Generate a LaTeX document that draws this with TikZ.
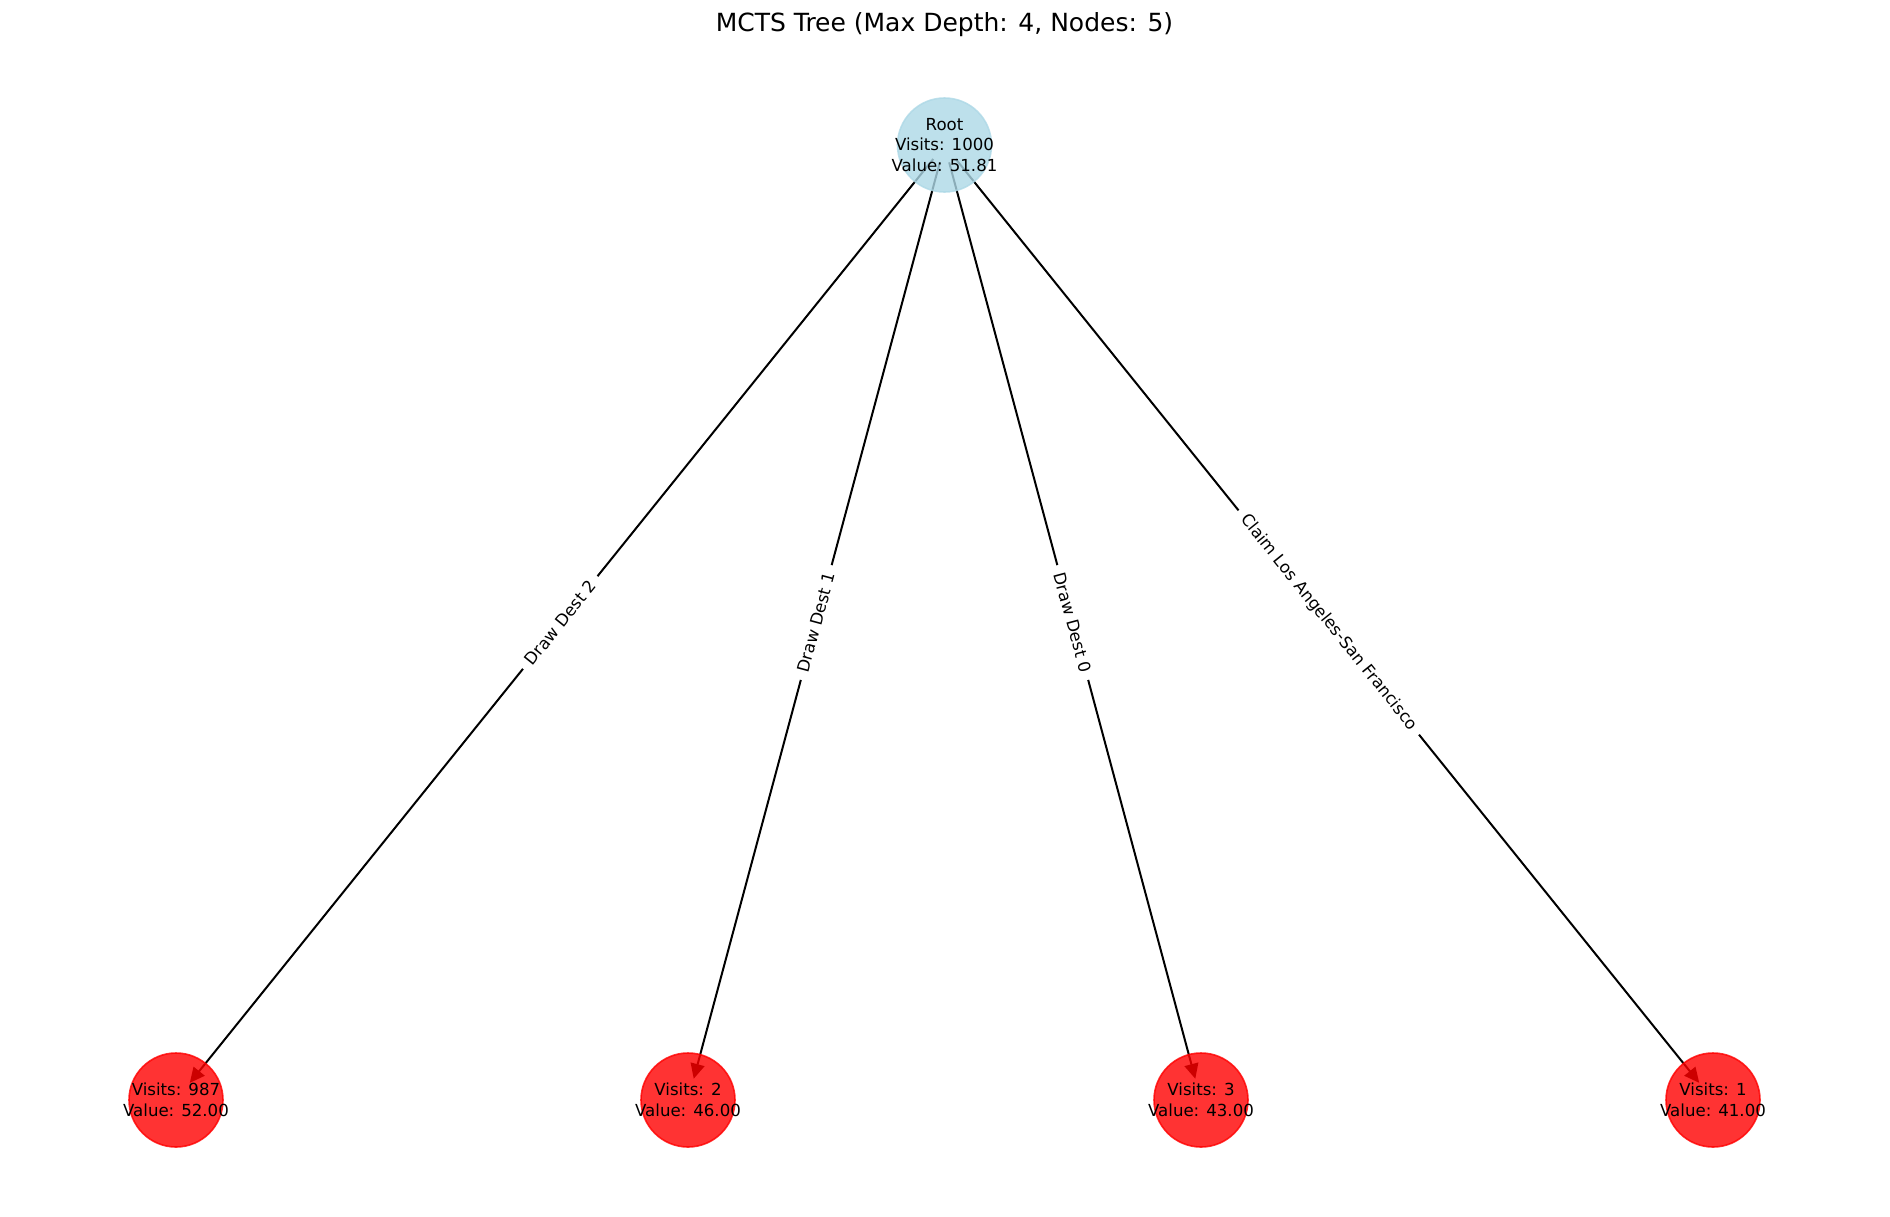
\documentclass[tikz,border=0pt]{standalone}
\usepackage{fontspec}
\setmainfont{DejaVu Sans}
\usetikzlibrary{arrows.meta}
\pgfdeclarelayer{bg}
\pgfsetlayers{bg,main}
\definecolor{lblue}{HTML}{ADD8E6}
\tikzset{
  nodetext/.style={align=center, inner sep=0pt, text opacity=1, font=\fontsize{8.3}{10.3}\selectfont},
  rootnode/.style={circle, minimum size=47pt, inner sep=0pt, fill=lblue, draw=lblue, line width=0.8pt, fill opacity=0.8, draw opacity=0.8},
  leafnode/.style={circle, minimum size=47pt, inner sep=0pt, fill=red, draw=red, line width=0.8pt, fill opacity=0.8, draw opacity=0.8},
  edgeline/.style={line width=1pt, black, -{Triangle[length=7.5pt, width=7pt]}, shorten <=9pt, shorten >=11pt},
  elabel/.style={fill=white, inner xsep=4pt, inner ysep=1.5pt, sloped, midway, font=\fontsize{8.3}{10}\selectfont},
  titlestyle/.style={font=\fontsize{12.5}{15}\selectfont}
}
\begin{document}
\begin{tikzpicture}[x=0.5pt, y=-0.5pt]
\useasboundingbox (0,0) rectangle (1890,1216);
\node[titlestyle] (title) at (944.5,25) {MCTS Tree (Max Depth: 4, Nodes: 5)};
\node[rootnode, label={[nodetext]center:Root\\Visits: 1000\\Value: 51.81}] (r) at (944.5,145) {};
\node[leafnode, label={[nodetext]center:Visits: 987\\Value: 52.00}] (c2) at (176,1100) {};
\node[leafnode, label={[nodetext]center:Visits: 2\\Value: 46.00}] (c1) at (688,1100) {};
\node[leafnode, label={[nodetext]center:Visits: 3\\Value: 43.00}] (c0) at (1201,1100) {};
\node[leafnode, label={[nodetext]center:Visits: 1\\Value: 41.00}] (cl) at (1713,1100) {};
\begin{pgfonlayer}{bg}
\draw[edgeline] (r.center) -- node[elabel] {Draw Dest 2} (c2.center);
\draw[edgeline] (r.center) -- node[elabel] {Draw Dest 1} (c1.center);
\draw[edgeline] (r.center) -- node[elabel] {Draw Dest 0} (c0.center);
\draw[edgeline] (r.center) -- node[elabel] {Claim Los Angeles-San Francisco} (cl.center);
\end{pgfonlayer}
\end{tikzpicture}
\end{document}
